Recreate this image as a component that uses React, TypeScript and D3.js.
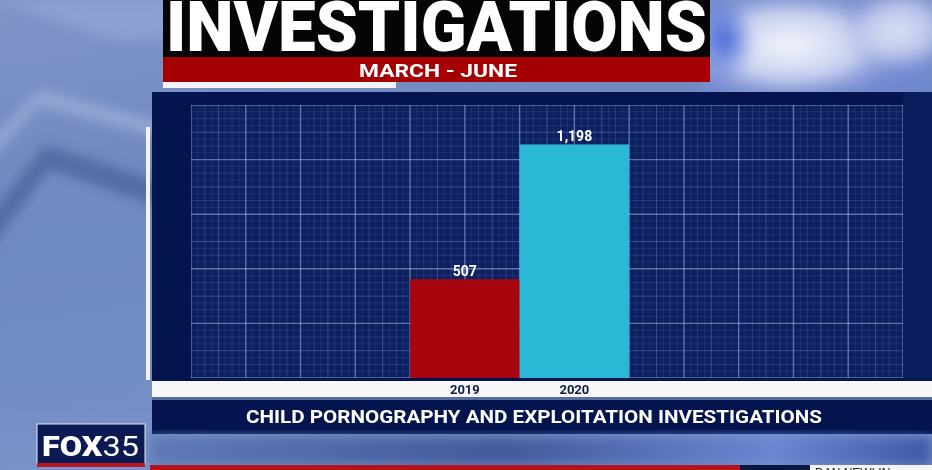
import React from "react";
import * as d3 from "d3";

// Data
const years = ["2019", "2020"];
const investigations = [507, 1198];
const valueLabels = ["507", "1,198"];
const barColors = ["#a8060e", "#2bb8d6"];

const title = "INVESTIGATIONS";
const subtitle = "MARCH - JUNE";
const caption = "CHILD PORNOGRAPHY AND EXPLOITATION  INVESTIGATIONS";

const W = 932;
const H = 470;

// plot area (grid)
const plot = { left: 191, right: 903, top: 105, bottom: 378 };
const gridCols = 13;
const gridRows = 5;
const yMax = 1400;

export default function App() {
  const y = d3.scaleLinear().domain([0, yMax]).range([plot.bottom, plot.top]);
  const col = d3.scaleLinear().domain([0, gridCols]).range([plot.left, plot.right]);
  const x = d3
    .scaleBand<string>()
    .domain(years)
    .range([col(4), col(8)])
    .paddingInner(0)
    .paddingOuter(0);

  const rowStep = yMax / gridRows;

  // grid lines: fine (1/8), quarter, half, major
  const vLines: { x: number; o: number; w: number }[] = [];
  for (let i = 0; i <= gridCols * 8; i++) {
    const v = i / 8;
    const o = i % 8 === 0 ? 0.5 : i % 4 === 0 ? 0.28 : i % 2 === 0 ? 0.16 : 0.1;
    vLines.push({ x: col(v), o, w: i % 8 === 0 ? 1.4 : 1 });
  }
  const hLines: { y: number; o: number; w: number }[] = [];
  for (let i = 0; i <= gridRows * 8; i++) {
    const v = (i / 8) * rowStep;
    const o = i % 8 === 0 ? 0.5 : i % 4 === 0 ? 0.28 : i % 2 === 0 ? 0.16 : 0.1;
    hLines.push({ y: y(v), o, w: i % 8 === 0 ? 1.4 : 1 });
  }

  return (
    <svg
      width={W}
      height={H}
      viewBox={`0 0 ${W} ${H}`}
      style={{ position: "absolute", left: 0, top: 0, display: "block" }}
      fontFamily="Roboto, 'Liberation Sans', sans-serif"
    >
      <defs>
        <linearGradient id="bg" x1="0" y1="0" x2="0.3" y2="1">
          <stop offset="0" stopColor="#8096c9" />
          <stop offset="0.5" stopColor="#6d85bd" />
          <stop offset="1" stopColor="#7b94ca" />
        </linearGradient>
        <radialGradient id="glow" cx="0.5" cy="0.5" r="0.5">
          <stop offset="0" stopColor="#f4f6fc" />
          <stop offset="0.55" stopColor="#d2d8f2" stopOpacity="0.9" />
          <stop offset="1" stopColor="#8fa0dc" stopOpacity="0" />
        </radialGradient>
        <radialGradient id="blueSpot" cx="0.5" cy="0.5" r="0.5">
          <stop offset="0" stopColor="#3d63d6" />
          <stop offset="1" stopColor="#3d63d6" stopOpacity="0" />
        </radialGradient>
        <linearGradient id="lower" x1="0" y1="0" x2="1" y2="0">
          <stop offset="0" stopColor="#6079b6" />
          <stop offset="0.45" stopColor="#44599a" />
          <stop offset="0.8" stopColor="#6a86d2" />
          <stop offset="1" stopColor="#3f58a6" />
        </linearGradient>
        <filter id="soft" x="-20%" y="-20%" width="140%" height="140%">
          <feGaussianBlur stdDeviation="6" />
        </filter>
        <clipPath id="plotClip">
          <rect x={plot.left} y={plot.top} width={plot.right - plot.left} height={plot.bottom - plot.top} />
        </clipPath>
      </defs>

      {/* backdrop */}
      <rect x={0} y={0} width={W} height={H} fill="url(#bg)" />
      <g filter="url(#soft)" opacity={0.7}>
        <path d="M-20,150 L40,90 L170,125 L170,140 L40,105 L-20,170 Z" fill="#a3b5de" />
        <path d="M-20,230 L45,145 L170,185 L170,210 L50,170 L-20,260 Z" fill="#4a5f98" />
        <path d="M-20,270 L50,175 L170,215 L170,400 L-20,400 Z" fill="#7490c6" opacity={0.6} />
        <path d="M0,0 L170,0 L170,40 L110,40 Z" fill="#93a7d6" />
      </g>
      <g filter="url(#soft)">
        <rect x={700} y={0} width={232} height={92} fill="#7289d2" />
        <ellipse cx={790} cy={45} rx={125} ry={58} fill="url(#glow)" />
        <ellipse cx={900} cy={30} rx={60} ry={45} fill="url(#glow)" opacity={0.8} />
        <ellipse cx={725} cy={40} rx={30} ry={40} fill="url(#blueSpot)" />
      </g>

      {/* title block */}
      <rect x={163} y={0} width={547} height={57} fill="#050505" />
      <text
        x={166}
        y={51}
        fontSize={70}
        fontWeight={900}
        fill="#ffffff"
        textLength={541}
        lengthAdjust="spacingAndGlyphs"
      >
        {title}
      </text>
      <rect x={163} y={57} width={547} height={25} fill="#a50004" />
      <text
        x={438}
        y={76.5}
        fontSize={18}
        fontWeight={700}
        fill="#ffffff"
        textAnchor="middle"
        textLength={158}
        lengthAdjust="spacingAndGlyphs"
      >
        {subtitle}
      </text>
      <rect x={163} y={82} width={233} height={6} fill="#f4f4f6" />

      {/* chart panel */}
      <rect x={152} y={92} width={W - 152} height={289} fill="#03144f" />
      <rect x={plot.right} y={92} width={W - plot.right} height={289} fill="#0a1d5c" />
      <rect x={146} y={127} width={4} height={253} fill="#f4f4f6" />

      <rect
        x={plot.left}
        y={plot.top}
        width={plot.right - plot.left}
        height={plot.bottom - plot.top}
        fill="#0c2062"
      />
      <g clipPath="url(#plotClip)">
        {vLines.map((l, i) => (
          <line
            key={`v${i}`}
            x1={l.x}
            x2={l.x}
            y1={plot.top}
            y2={plot.bottom}
            stroke="#b4c0ea"
            strokeOpacity={l.o}
            strokeWidth={l.w}
          />
        ))}
        {hLines.map((l, i) => (
          <line
            key={`h${i}`}
            x1={plot.left}
            x2={plot.right}
            y1={l.y}
            y2={l.y}
            stroke="#b4c0ea"
            strokeOpacity={l.o}
            strokeWidth={l.w}
          />
        ))}
      </g>

      {/* bars */}
      {years.map((yr, i) => (
        <g key={yr}>
          <rect
            x={x(yr)!}
            y={y(investigations[i])}
            width={x.bandwidth()}
            height={y(0) - y(investigations[i])}
            fill={barColors[i]}
          />
          <text
            x={x(yr)! + x.bandwidth() / 2}
            y={y(investigations[i]) - 3}
            textAnchor="middle"
            fontSize={14}
            fontWeight={700}
            fill="#ffffff"
          >
            {valueLabels[i]}
          </text>
        </g>
      ))}

      {/* axis band */}
      <rect x={152} y={378} width={W - 152} height={3} fill="#03144f" />
      <rect x={152} y={381} width={W - 152} height={16} fill="#f7f7fa" />
      {years.map((yr) => (
        <text
          key={`lab${yr}`}
          x={x(yr)! + x.bandwidth() / 2}
          y={394}
          textAnchor="middle"
          fontSize={13}
          fontWeight={700}
          fill="#0d1a45"
        >
          {yr}
        </text>
      ))}
      <rect x={152} y={397} width={W - 152} height={3} fill="#5a6a9c" />

      {/* caption band */}
      <rect x={152} y={400} width={W - 152} height={34} fill="#03144f" />
      <text
        x={534}
        y={423}
        textAnchor="middle"
        fontSize={19}
        fontWeight={700}
        fill="#ffffff"
        textLength={576}
        lengthAdjust="spacingAndGlyphs"
      >
        {caption}
      </text>

      {/* lower backdrop strip */}
      <g filter="url(#soft)">
        <rect x={150} y={436} width={W - 150} height={30} fill="url(#lower)" />
      </g>
      <rect x={150} y={465} width={590} height={5} fill="#b5121b" />
      <rect x={740} y={465} width={70} height={5} fill="#0a1540" />
      <rect x={810} y={465} width={122} height={5} fill="#f4f4f4" />
      <text x={815} y={477} fontSize={12} fill="#222" fontFamily="'Liberation Sans', sans-serif">
        DAN NEWLIN
      </text>

      {/* station logo */}
      <rect x={37} y={424} width={108} height={40} fill="#0b1a52" stroke="#e8eaf2" strokeWidth={1} />
      <rect x={37} y={463} width={108} height={4} fill="#c0141c" />
      <text x={42} y={456} fontSize={27} fill="#ffffff" textLength={97} lengthAdjust="spacingAndGlyphs">
        <tspan fontWeight={900}>FOX</tspan>
        <tspan fontWeight={400}>35</tspan>
      </text>
    </svg>
  );
}
